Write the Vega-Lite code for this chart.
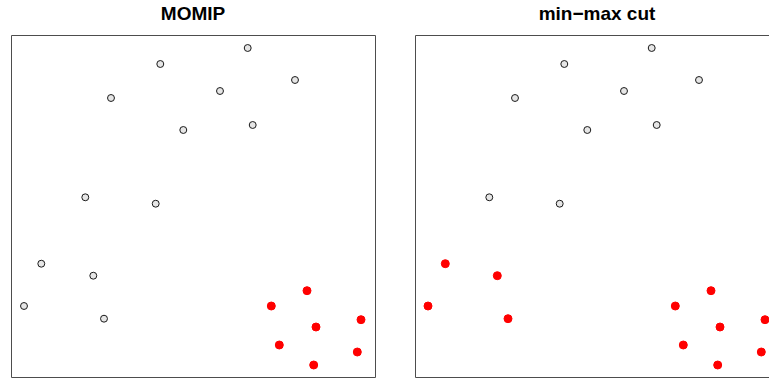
{
  "$schema": "https://vega.github.io/schema/vega-lite/v6.json",
  "autosize": {"type": "pad"},
  "padding": {"left": 10, "top": 5, "right": 0, "bottom": 0},
  "background": "white",
  "data": {"values": [
    {"panel": "MOMIP", "x": 236.7, "y": 329, "status": "open"},
    {"panel": "MOMIP", "x": 149.3, "y": 313, "status": "open"},
    {"panel": "MOMIP", "x": 284, "y": 297, "status": "open"},
    {"panel": "MOMIP", "x": 209, "y": 286, "status": "open"},
    {"panel": "MOMIP", "x": 100, "y": 279, "status": "open"},
    {"panel": "MOMIP", "x": 172.3, "y": 247, "status": "open"},
    {"panel": "MOMIP", "x": 241.7, "y": 252, "status": "open"},
    {"panel": "MOMIP", "x": 74.3, "y": 179.7, "status": "open"},
    {"panel": "MOMIP", "x": 144.7, "y": 173.3, "status": "open"},
    {"panel": "MOMIP", "x": 30.3, "y": 113.3, "status": "open"},
    {"panel": "MOMIP", "x": 82.3, "y": 101.3, "status": "open"},
    {"panel": "MOMIP", "x": 13, "y": 71, "status": "open"},
    {"panel": "MOMIP", "x": 93, "y": 58.3, "status": "open"},
    {"panel": "MOMIP", "x": 296, "y": 86.3, "status": "cut"},
    {"panel": "MOMIP", "x": 260.3, "y": 71, "status": "cut"},
    {"panel": "MOMIP", "x": 350, "y": 57.3, "status": "cut"},
    {"panel": "MOMIP", "x": 305, "y": 50, "status": "cut"},
    {"panel": "MOMIP", "x": 268.3, "y": 32, "status": "cut"},
    {"panel": "MOMIP", "x": 346.3, "y": 25, "status": "cut"},
    {"panel": "MOMIP", "x": 302.7, "y": 12, "status": "cut"},
    {"panel": "min−max cut", "x": 236.7, "y": 329, "status": "open"},
    {"panel": "min−max cut", "x": 149.3, "y": 313, "status": "open"},
    {"panel": "min−max cut", "x": 284, "y": 297, "status": "open"},
    {"panel": "min−max cut", "x": 209, "y": 286, "status": "open"},
    {"panel": "min−max cut", "x": 100, "y": 279, "status": "open"},
    {"panel": "min−max cut", "x": 172.3, "y": 247, "status": "open"},
    {"panel": "min−max cut", "x": 241.7, "y": 252, "status": "open"},
    {"panel": "min−max cut", "x": 74.3, "y": 179.7, "status": "open"},
    {"panel": "min−max cut", "x": 144.7, "y": 173.3, "status": "open"},
    {"panel": "min−max cut", "x": 30.3, "y": 113.3, "status": "cut"},
    {"panel": "min−max cut", "x": 82.3, "y": 101.3, "status": "cut"},
    {"panel": "min−max cut", "x": 13, "y": 71, "status": "cut"},
    {"panel": "min−max cut", "x": 93, "y": 58.3, "status": "cut"},
    {"panel": "min−max cut", "x": 296, "y": 86.3, "status": "cut"},
    {"panel": "min−max cut", "x": 260.3, "y": 71, "status": "cut"},
    {"panel": "min−max cut", "x": 350, "y": 57.3, "status": "cut"},
    {"panel": "min−max cut", "x": 305, "y": 50, "status": "cut"},
    {"panel": "min−max cut", "x": 268.3, "y": 32, "status": "cut"},
    {"panel": "min−max cut", "x": 346.3, "y": 25, "status": "cut"},
    {"panel": "min−max cut", "x": 302.7, "y": 12, "status": "cut"}
  ]},
  "facet": {
    "column": {
      "field": "panel",
      "type": "nominal",
      "sort": ["MOMIP", "min−max cut"],
      "title": null,
      "header": {
        "labelFont": "Liberation Sans",
        "labelFontSize": 19,
        "labelFontWeight": "bold",
        "labelColor": "black",
        "labelPadding": 10
      }
    }
  },
  "spacing": 38,
  "spec": {
    "width": 364,
    "height": 342,
    "mark": {"type": "point", "shape": "circle", "filled": true, "strokeWidth": 1, "opacity": 1},
    "encoding": {
      "x": {"field": "x", "type": "quantitative", "scale": {"domain": [0, 364]}, "axis": null},
      "y": {"field": "y", "type": "quantitative", "scale": {"domain": [0, 342]}, "axis": null},
      "fill": {"field": "status", "type": "nominal", "scale": {"domain": ["open", "cut"], "range": ["#e6e6e6", "#ff0000"]}, "legend": null},
      "stroke": {"field": "status", "type": "nominal", "scale": {"domain": ["open", "cut"], "range": ["#1a1a1a", "#ff0000"]}, "legend": null},
      "size": {"field": "status", "type": "nominal", "scale": {"domain": ["open", "cut"], "range": [48, 64]}, "legend": null}
    }
  },
  "config": {
    "view": {"stroke": "#4d4d4d", "strokeWidth": 1}
  }
}
